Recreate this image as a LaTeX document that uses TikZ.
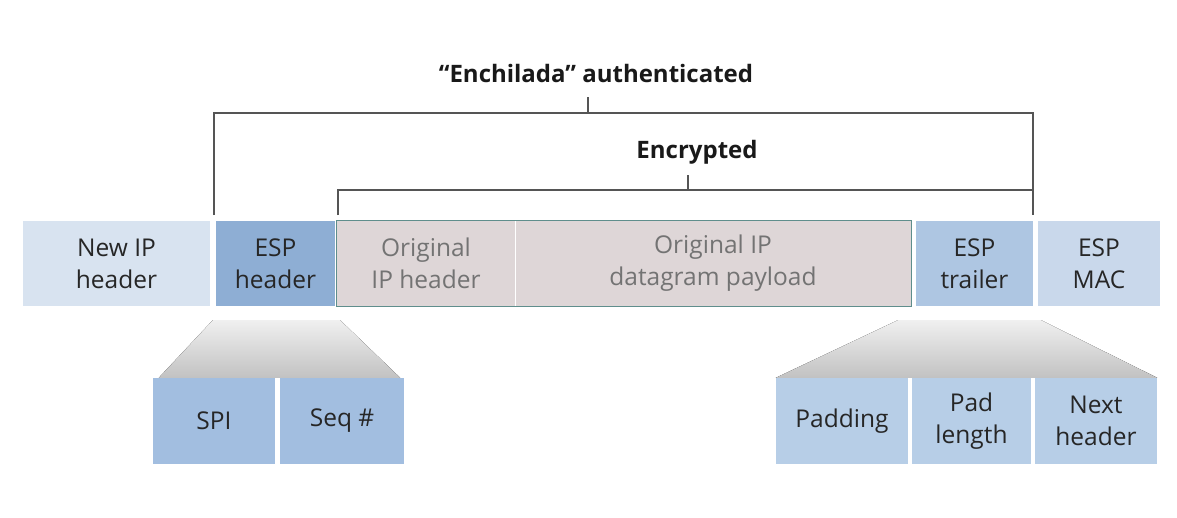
\documentclass[tikz,border=0pt]{standalone}
\usepackage{fontspec}
\setmainfont{Open Sans}
\usetikzlibrary{calc}
\definecolor{lightblue}{HTML}{D8E3F0}
\definecolor{darkblue}{HTML}{8EAED4}
\definecolor{midblue}{HTML}{AEC6E2}
\definecolor{macblue}{HTML}{C9D8EB}
\definecolor{subblue}{HTML}{A2BEE0}
\definecolor{trailsub}{HTML}{B7CEE7}
\definecolor{origfill}{HTML}{DED6D7}
\definecolor{origline}{HTML}{5F8E8C}
\definecolor{brk}{HTML}{555555}
\tikzset{
  fld/.style={inner sep=0pt, minimum height=85pt, align=center,
    font=\fontsize{24.5}{32}\selectfont, text=black!85},
  origfld/.style={fld, fill=origfill, text=black!55},
  bracket/.style={draw=brk, line width=1.1pt},
  toplabel/.style={font=\fontsize{24}{30}\selectfont\bfseries, text=black!90},
  fan/.style={top color=black!6, bottom color=black!24, draw=none},
}
\begin{document}
\begin{tikzpicture}[x=1pt,y=-1pt]
\useasboundingbox[fill=white] (0,0) rectangle (1177,517);
% main row
\node[fld, fill=lightblue, minimum width=187pt] (newip) at (116.5,263.5) {New IP\\header};
\node[fld, fill=darkblue, minimum width=119pt] (esph) at (275.5,263.5) {ESP\\header};
\node[origfld, minimum width=178pt] (origh) at (426,263.5) {Original\\IP header};
\node[origfld, minimum width=396pt] (payload) at (713,263.5) {Original IP\\datagram payload};
\node[fld, fill=midblue, minimum width=117pt] (trailer) at (974.5,263.5) {ESP\\trailer};
\node[fld, fill=macblue, minimum width=122pt] (mac) at (1099,263.5) {ESP\\MAC};
\draw[white, line width=1pt] (origh.north east) -- (origh.south east);
\draw[origline, line width=1.3pt] (origh.north west) rectangle (payload.south east);
% sub fields
\node[fld, fill=subblue, minimum width=122pt, minimum height=86pt] (spi) at (214,421) {SPI};
\node[fld, fill=subblue, minimum width=124pt, minimum height=86pt] (seq) at (342,421) {Seq \#};
\node[fld, fill=trailsub, minimum width=132pt, minimum height=86pt] (pad) at (842,421) {Padding};
\node[fld, fill=trailsub, minimum width=119pt, minimum height=86pt] (padlen) at (971.5,421) {Pad\\length};
\node[fld, fill=trailsub, minimum width=122pt, minimum height=86pt] (next) at (1096,421) {Next\\header};
% fans
\fill[fan] ($(esph.south west)+(-3,14)$) -- ($(esph.south east)+(5,14)$) -- ($(seq.north east)+(-4,0)$) -- ($(spi.north west)+(6,0)$) -- cycle;
\fill[fan] ($(trailer.south west)+(-18,14)$) -- ($(trailer.south east)+(8,14)$) -- (next.north east) -- (pad.north west) -- cycle;
% labels and brackets
\node[toplabel] (auth) at (596,73) {“Enchilada” authenticated};
\node[toplabel] (enc) at (697,152) {Encrypted};
\coordinate (aL) at (214,215);
\coordinate (aR) at (1033,215);
\coordinate (aT) at (588,97);
\coordinate (eL) at (338,215);
\coordinate (eR) at (1033,215);
\coordinate (eT) at (688,175);
\draw[bracket] (aL) -- (aL |- 0,113) -- (aR |- 0,113) -- (aR);
\draw[bracket] (aT) -- (aT |- 0,113);
\draw[bracket] (eL) -- (eL |- 0,190) -- (eR |- 0,190) -- (eR);
\draw[bracket] (eT) -- (eT |- 0,190);
\end{tikzpicture}
\end{document}
